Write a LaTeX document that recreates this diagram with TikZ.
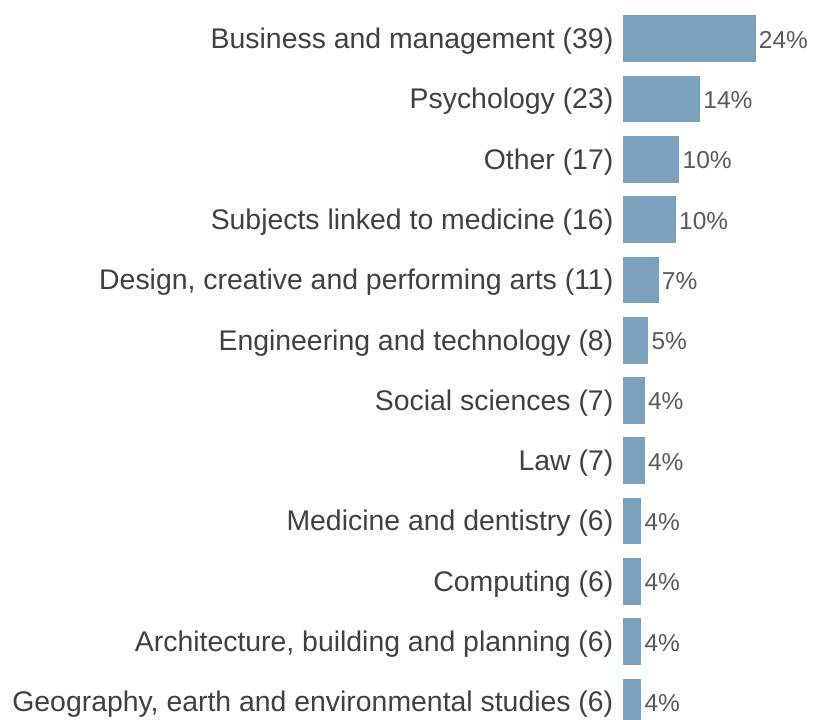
\documentclass[tikz,border=0pt]{standalone}
\usepackage{fontspec}
\setmainfont{Liberation Sans}
\definecolor{barblue}{RGB}{122,162,190}
\definecolor{labelgray}{RGB}{64,64,64}
\definecolor{pctgray}{RGB}{89,89,89}
\begin{document}
\begin{tikzpicture}[x=1pt,y=-1pt,
    bar/.style={fill=barblue, inner sep=0pt, minimum height=46.7pt, anchor=west},
    catlabel/.style={anchor=east, text=labelgray, inner sep=0pt, yshift=-2.5pt, font=\fontsize{28.4}{30}\selectfont},
    pctlabel/.style={anchor=west, text=pctgray, inner sep=0pt, yshift=-1pt, font=\fontsize{24.5}{26}\selectfont}]
    \useasboundingbox (0,0) rectangle (814,720);
    \clip (0,0) rectangle (814,720);
    % one row per subject: index/name/count/percent
    \foreach \i/\name/\n/\p in {1/Business and management/39/24,
            2/Psychology/23/14,
            3/Other/17/10,
            4/Subjects linked to medicine/16/10,
            5/{Design, creative and performing arts}/11/7,
            6/Engineering and technology/8/5,
            7/Social sciences/7/4,
            8/Law/7/4,
            9/Medicine and dentistry/6/4,
            10/Computing/6/4,
            11/{Architecture, building and planning}/6/4,
            12/{Geography, earth and environmental studies}/6/4}{
        \node[bar, minimum width={3.464*\n-2.8}] (bar\i) at (623,{38.7+60.3*(\i-1)}) {};
        \node[catlabel] (cat\i) at ([xshift=-9.5pt]bar\i.west) {\name\ (\n)};
        \node[pctlabel] (pct\i) at ([xshift=3pt]bar\i.east) {\p\%};
    }
\end{tikzpicture}
\end{document}
